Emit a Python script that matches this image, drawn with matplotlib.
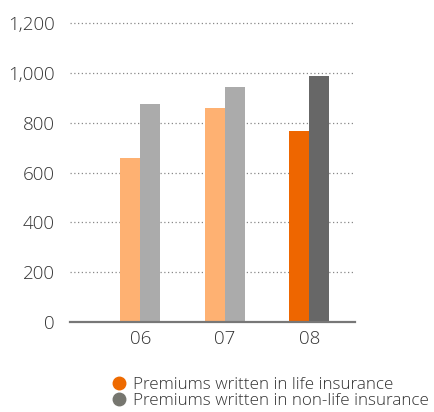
import matplotlib
matplotlib.use("Agg")
import matplotlib.pyplot as plt
from matplotlib.lines import Line2D
import numpy as np

plt.rcParams['font.family'] = ['Open Sans', 'DejaVu Sans']

years = ["06", "07", "08"]
life = [660, 860, 768]
non_life = [876, 944, 988]
y_ticks = [0, 200, 400, 600, 800, 1000, 1200]
y_tick_labels = ["0", "200", "400", "600", "800", "1,000", "1,200"]

life_colors = ["#FEB172", "#FEB172", "#EE6600"]
non_life_colors = ["#ABABAB", "#ABABAB", "#676767"]

fig = plt.figure(figsize=(4.35, 4.12), dpi=100)
ax = fig.add_axes([70/435, 1 - 322/412, 285/435, 300/412])

x = np.arange(len(years))
w = 0.237
ax.bar(x - w/2, life, width=w, color=life_colors, zorder=3)
ax.bar(x + w/2, non_life, width=w, color=non_life_colors, zorder=3)

ax.set_xlim(-0.83, 2.54)
ax.set_ylim(0, 1200 * 300 / 299)
ax.set_yticks(y_ticks)
ax.set_yticklabels(y_tick_labels, fontweight="light")
ax.set_xticks(x)
ax.set_xticklabels(years, fontweight="light")
ax.tick_params(axis='both', length=0, labelsize=13.5, colors="#333333")
ax.tick_params(axis='y', pad=11)
ax.tick_params(axis='x', pad=6)

ax.yaxis.grid(True, linestyle=(0, (1, 2)), color="#888888", linewidth=0.9, zorder=0)
for s in ["top", "right", "left"]:
    ax.spines[s].set_visible(False)
ax.spines["bottom"].set_color("#777777")
ax.spines["bottom"].set_linewidth(1.6)
ax.spines["bottom"].set_zorder(4)

handles = [
    Line2D([], [], marker='o', linestyle='none', markersize=9, color="#EE6A00"),
    Line2D([], [], marker='o', linestyle='none', markersize=9, color="#76766F"),
]
labels = ["Premiums written in life insurance", "Premiums written in non-life insurance"]
leg = fig.legend(handles, labels, loc="upper left", bbox_to_anchor=(102/435, 1 - 368/412),
                 frameon=False, fontsize=12.3, handletextpad=0.3, labelspacing=0.05,
                 handlelength=1.0, borderpad=0, labelcolor="#333333")
for t in leg.get_texts():
    t.set_fontweight("light")

fig.savefig("out.png", dpi=100)
